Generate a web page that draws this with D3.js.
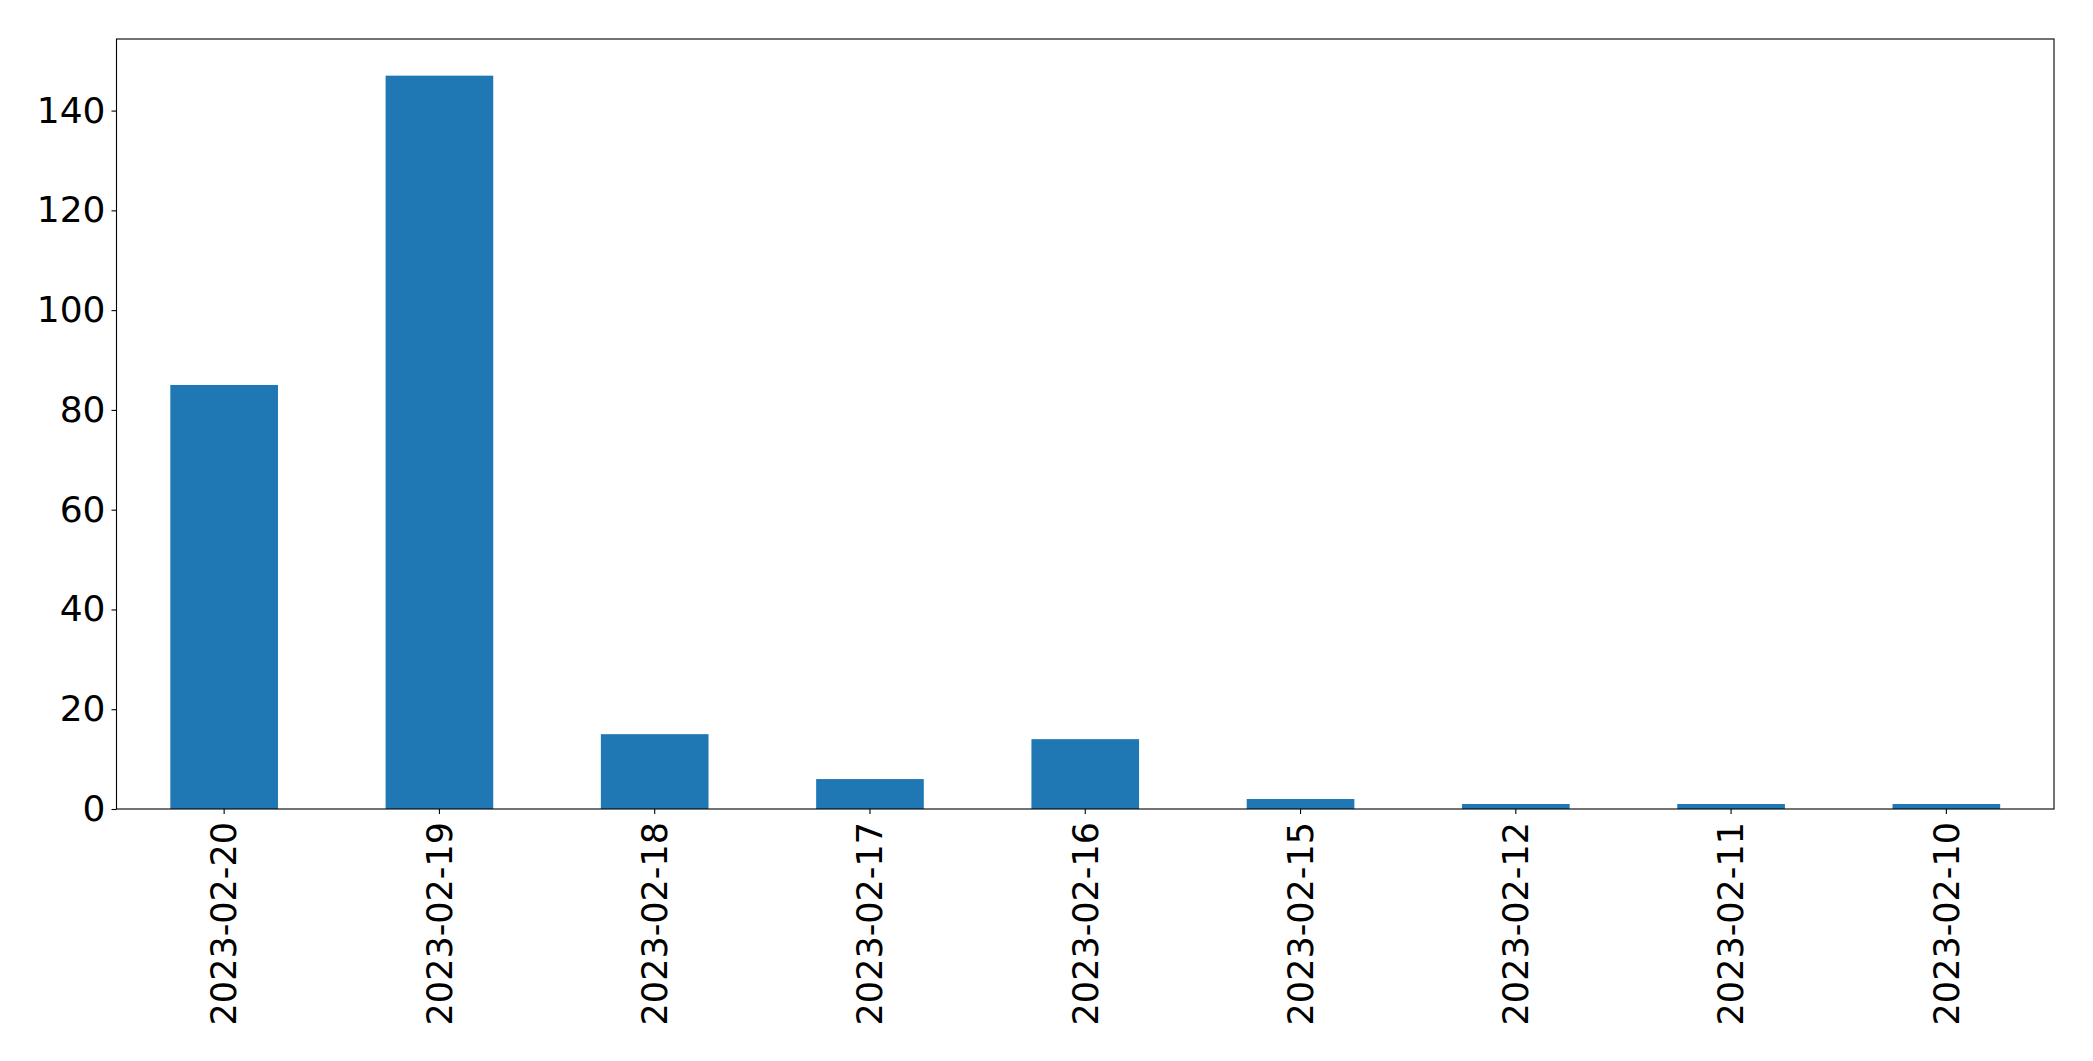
<!DOCTYPE html>
<html>
<head>
<meta charset="utf-8">
<script src="https://cdn.jsdelivr.net/npm/d3@7"></script>
<style>
  html, body { margin: 0; padding: 0; background: #fff; }
  svg { display: block; }
  text { font-family: "DejaVu Sans", sans-serif; fill: #000; }
</style>
</head>
<body>
<script>
const categories = ["2023-02-20","2023-02-19","2023-02-18","2023-02-17","2023-02-16","2023-02-15","2023-02-12","2023-02-11","2023-02-10"];
const values = [85, 147, 15, 6, 14, 2, 1, 1, 1];
const yTicks = [0, 20, 40, 60, 80, 100, 120, 140];

const W = 2093, H = 1061;
const margin = { left: 116.5, right: W - 2054, top: 39, bottom: H - 809 };
const iw = W - margin.left - margin.right;
const ih = H - margin.top - margin.bottom;

const svg = d3.select("body").append("svg").attr("width", W).attr("height", H);
const g = svg.append("g").attr("transform", `translate(${margin.left},${margin.top})`);

const x = d3.scaleBand().domain(categories).range([0, iw]).paddingInner(0.5).paddingOuter(0.25);
const y = d3.scaleLinear().domain([0, d3.max(values) * 1.05]).range([ih, 0]);

g.selectAll("rect.bar").data(values).join("rect")
  .attr("class", "bar")
  .attr("x", (d, i) => x(categories[i]))
  .attr("width", x.bandwidth())
  .attr("y", d => y(d))
  .attr("height", d => y(0) - y(d))
  .attr("fill", "#1f77b4");

const fs = 36;
const yAxis = g.append("g").call(d3.axisLeft(y).tickValues(yTicks).tickSize(5).tickPadding(6).tickFormat(d3.format("d")));
yAxis.select(".domain").remove();
yAxis.selectAll("line").attr("stroke", "#000").attr("stroke-width", 1.1);
yAxis.selectAll("text").style("font-size", fs + "px").attr("font-family", "DejaVu Sans");

const xAxis = g.append("g").attr("transform", `translate(0,${ih})`)
  .call(d3.axisBottom(x).tickSize(5).tickPadding(0));
xAxis.select(".domain").remove();
xAxis.selectAll("line").attr("stroke", "#000").attr("stroke-width", 1.1);
xAxis.selectAll("text")
  .style("font-size", "35px")
  .attr("font-family", "DejaVu Sans")
  .attr("text-anchor", "end")
  .attr("transform", "translate(0,13) rotate(-90)")
  .attr("x", 0).attr("y", 0).attr("dy", "0.35em");

g.append("rect").attr("x", 0).attr("y", 0).attr("width", iw).attr("height", ih)
  .attr("fill", "none").attr("stroke", "#000").attr("stroke-width", 1.1);
</script>
</body>
</html>
